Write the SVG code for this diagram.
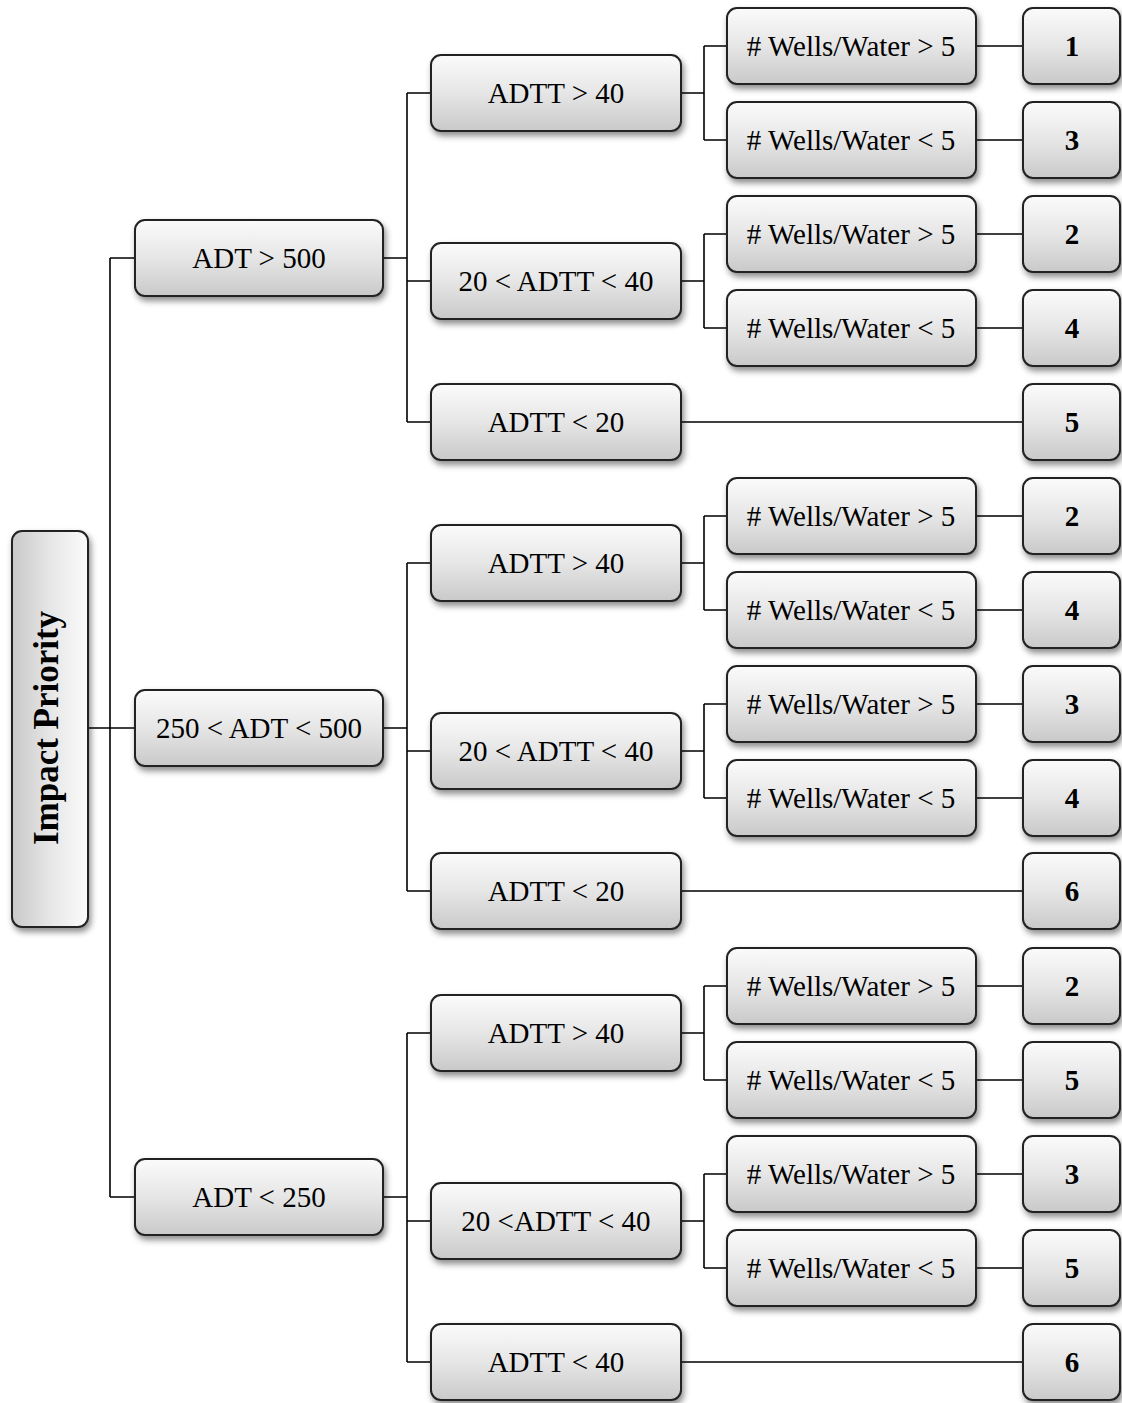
<svg xmlns="http://www.w3.org/2000/svg" width="1122" height="1403" viewBox="0 0 1122 1403">
<defs>
<linearGradient id="g" x1="0" y1="0" x2="0" y2="1">
<stop offset="0" stop-color="#fbfbfb"/>
<stop offset="0.5" stop-color="#e6e6e6"/>
<stop offset="1" stop-color="#c9c9c9"/>
</linearGradient>
<linearGradient id="gr" x1="0" y1="0" x2="1" y2="0">
<stop offset="0" stop-color="#c9c9c9"/>
<stop offset="0.5" stop-color="#e6e6e6"/>
<stop offset="1" stop-color="#fbfbfb"/>
</linearGradient>
<filter id="sh" x="-10%" y="-10%" width="130%" height="140%">
<feDropShadow dx="2" dy="4" stdDeviation="3" flood-color="#000" flood-opacity="0.45"/>
</filter>
</defs>
<style>
.b{fill:url(#g);stroke:#222;stroke-width:2;filter:url(#sh)}
.br{fill:url(#gr);stroke:#222;stroke-width:2;filter:url(#sh)}
.t{font-family:"Liberation Serif",serif;font-size:29px;fill:#000;text-anchor:middle}
.n{font-family:"Liberation Serif",serif;font-size:29px;font-weight:bold;fill:#000;text-anchor:middle}
.c{fill:none;stroke:#000;stroke-width:1.6}
</style>
<g id="connectors" class="c">
<path d="M88,728 H135 M110,258 V1197 M110,258 H135 M110,1197 H135"/>
<path d="M383,258 H407 M407,93 V422 M407,93 H431 M407,281 H431 M407,422 H431"/>
<path d="M383,728 H407 M407,563 V891 M407,563 H431 M407,751 H431 M407,891 H431"/>
<path d="M383,1197 H407 M407,1033 V1362 M407,1033 H431 M407,1221 H431 M407,1362 H431"/>
<path d="M681,93 H704 M704,46 V140 M704,46 H727 M704,140 H727 M681,281 H704 M704,234 V328 M704,234 H727 M704,328 H727 M681,422 H1023"/>
<path d="M681,563 H704 M704,516 V610 M704,516 H727 M704,610 H727 M681,751 H704 M704,704 V798 M704,704 H727 M704,798 H727 M681,891 H1023"/>
<path d="M681,1033 H704 M704,986 V1080 M704,986 H727 M704,1080 H727 M681,1221 H704 M704,1174 V1268 M704,1174 H727 M704,1268 H727 M681,1362 H1023"/>
<path d="M976,46 H1023 M976,140 H1023 M976,234 H1023 M976,328 H1023 M976,516 H1023 M976,610 H1023 M976,704 H1023 M976,798 H1023 M976,986 H1023 M976,1080 H1023 M976,1174 H1023 M976,1268 H1023"/>
</g>
<g id="root"><rect class="br" x="12" y="531" width="76" height="396" rx="10"/><text class="n" style="font-size:35px" transform="translate(58,728) rotate(-90)">Impact Priority</text></g>
<g id="adt_gt500"><rect class="b" x="135" y="220" width="248" height="76" rx="10"/><text class="t" x="259" y="268">ADT &gt; 500</text></g>
<g id="adt_250_500"><rect class="b" x="135" y="690" width="248" height="76" rx="10"/><text class="t" x="259" y="738">250 &lt; ADT &lt; 500</text></g>
<g id="adt_lt250"><rect class="b" x="135" y="1159" width="248" height="76" rx="10"/><text class="t" x="259" y="1207">ADT &lt; 250</text></g>
<g id="g1_adtt_gt40"><rect class="b" x="431" y="55" width="250" height="76" rx="10"/><text class="t" x="556" y="103">ADTT &gt; 40</text></g>
<g id="g1_adtt_20_40"><rect class="b" x="431" y="243" width="250" height="76" rx="10"/><text class="t" x="556" y="291">20 &lt; ADTT &lt; 40</text></g>
<g id="g1_adtt_lt20"><rect class="b" x="431" y="384" width="250" height="76" rx="10"/><text class="t" x="556" y="432">ADTT &lt; 20</text></g>
<g id="g2_adtt_gt40"><rect class="b" x="431" y="525" width="250" height="76" rx="10"/><text class="t" x="556" y="573">ADTT &gt; 40</text></g>
<g id="g2_adtt_20_40"><rect class="b" x="431" y="713" width="250" height="76" rx="10"/><text class="t" x="556" y="761">20 &lt; ADTT &lt; 40</text></g>
<g id="g2_adtt_lt20"><rect class="b" x="431" y="853" width="250" height="76" rx="10"/><text class="t" x="556" y="901">ADTT &lt; 20</text></g>
<g id="g3_adtt_gt40"><rect class="b" x="431" y="995" width="250" height="76" rx="10"/><text class="t" x="556" y="1043">ADTT &gt; 40</text></g>
<g id="g3_adtt_20_40"><rect class="b" x="431" y="1183" width="250" height="76" rx="10"/><text class="t" x="556" y="1231">20 &lt;ADTT &lt; 40</text></g>
<g id="g3_adtt_lt40"><rect class="b" x="431" y="1324" width="250" height="76" rx="10"/><text class="t" x="556" y="1372">ADTT &lt; 40</text></g>
<g id="w1"><rect class="b" x="727" y="8" width="249" height="76" rx="10"/><text class="t" x="851" y="56"># Wells/Water &gt; 5</text></g>
<g id="w2"><rect class="b" x="727" y="102" width="249" height="76" rx="10"/><text class="t" x="851" y="150"># Wells/Water &lt; 5</text></g>
<g id="w3"><rect class="b" x="727" y="196" width="249" height="76" rx="10"/><text class="t" x="851" y="244"># Wells/Water &gt; 5</text></g>
<g id="w4"><rect class="b" x="727" y="290" width="249" height="76" rx="10"/><text class="t" x="851" y="338"># Wells/Water &lt; 5</text></g>
<g id="w5"><rect class="b" x="727" y="478" width="249" height="76" rx="10"/><text class="t" x="851" y="526"># Wells/Water &gt; 5</text></g>
<g id="w6"><rect class="b" x="727" y="572" width="249" height="76" rx="10"/><text class="t" x="851" y="620"># Wells/Water &lt; 5</text></g>
<g id="w7"><rect class="b" x="727" y="666" width="249" height="76" rx="10"/><text class="t" x="851" y="714"># Wells/Water &gt; 5</text></g>
<g id="w8"><rect class="b" x="727" y="760" width="249" height="76" rx="10"/><text class="t" x="851" y="808"># Wells/Water &lt; 5</text></g>
<g id="w9"><rect class="b" x="727" y="948" width="249" height="76" rx="10"/><text class="t" x="851" y="996"># Wells/Water &gt; 5</text></g>
<g id="w10"><rect class="b" x="727" y="1042" width="249" height="76" rx="10"/><text class="t" x="851" y="1090"># Wells/Water &lt; 5</text></g>
<g id="w11"><rect class="b" x="727" y="1136" width="249" height="76" rx="10"/><text class="t" x="851" y="1184"># Wells/Water &gt; 5</text></g>
<g id="w12"><rect class="b" x="727" y="1230" width="249" height="76" rx="10"/><text class="t" x="851" y="1278"># Wells/Water &lt; 5</text></g>
<g id="r1"><rect class="b" x="1023" y="8" width="97" height="76" rx="10"/><text class="n" x="1072" y="56">1</text></g>
<g id="r2"><rect class="b" x="1023" y="102" width="97" height="76" rx="10"/><text class="n" x="1072" y="150">3</text></g>
<g id="r3"><rect class="b" x="1023" y="196" width="97" height="76" rx="10"/><text class="n" x="1072" y="244">2</text></g>
<g id="r4"><rect class="b" x="1023" y="290" width="97" height="76" rx="10"/><text class="n" x="1072" y="338">4</text></g>
<g id="r5"><rect class="b" x="1023" y="384" width="97" height="76" rx="10"/><text class="n" x="1072" y="432">5</text></g>
<g id="r6"><rect class="b" x="1023" y="478" width="97" height="76" rx="10"/><text class="n" x="1072" y="526">2</text></g>
<g id="r7"><rect class="b" x="1023" y="572" width="97" height="76" rx="10"/><text class="n" x="1072" y="620">4</text></g>
<g id="r8"><rect class="b" x="1023" y="666" width="97" height="76" rx="10"/><text class="n" x="1072" y="714">3</text></g>
<g id="r9"><rect class="b" x="1023" y="760" width="97" height="76" rx="10"/><text class="n" x="1072" y="808">4</text></g>
<g id="r10"><rect class="b" x="1023" y="853" width="97" height="76" rx="10"/><text class="n" x="1072" y="901">6</text></g>
<g id="r11"><rect class="b" x="1023" y="948" width="97" height="76" rx="10"/><text class="n" x="1072" y="996">2</text></g>
<g id="r12"><rect class="b" x="1023" y="1042" width="97" height="76" rx="10"/><text class="n" x="1072" y="1090">5</text></g>
<g id="r13"><rect class="b" x="1023" y="1136" width="97" height="76" rx="10"/><text class="n" x="1072" y="1184">3</text></g>
<g id="r14"><rect class="b" x="1023" y="1230" width="97" height="76" rx="10"/><text class="n" x="1072" y="1278">5</text></g>
<g id="r15"><rect class="b" x="1023" y="1324" width="97" height="76" rx="10"/><text class="n" x="1072" y="1372">6</text></g>
</svg>
